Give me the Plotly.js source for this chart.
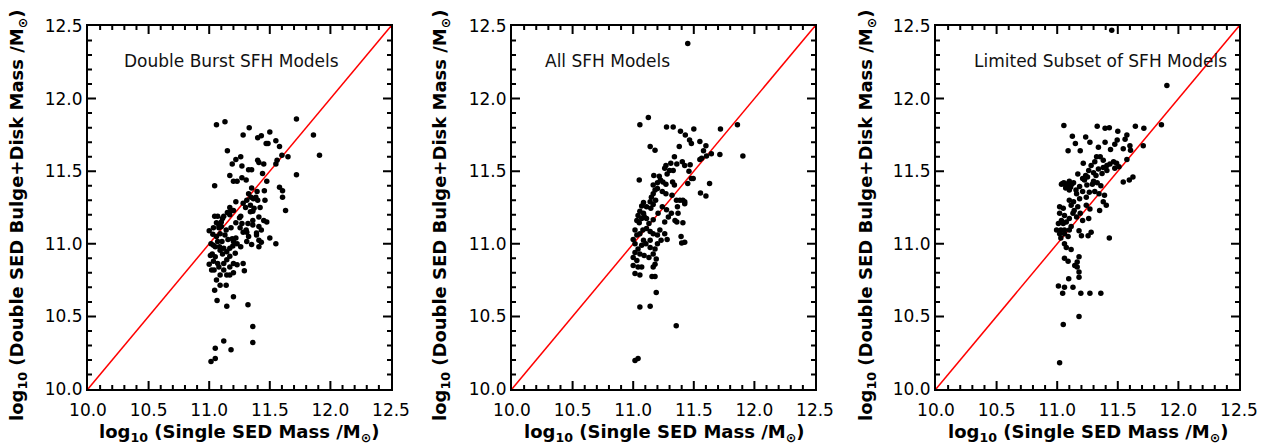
<!DOCTYPE html>
<html>
<head>
<meta charset="utf-8">
<script src="https://cdn.plot.ly/plotly-3.0.1.min.js"></script>
<style>html,body{margin:0;padding:0;background:#fff;}#chart{width:1270px;height:447px;}
.js-plotly-plot .plotly .crisp{shape-rendering:auto !important;}</style>
</head>
<body>
<div id="chart"></div>
<script>
// Panel 1: Double Burst SFH Models
const p1x = [11.06,11.13,11.33,11.72,11.86,11.91,11.28,11.40,11.43,11.50,11.47,11.485,11.55,11.58,11.15,11.26,11.22,11.19,11.40,11.41,11.45,11.27,11.325,11.35,11.55,11.56,11.60,11.65,11.17,11.27,11.305,11.20,11.23,11.44,11.475,11.72,11.045,11.35,11.395,11.455,11.58,11.605,11.605,11.325,11.345,11.365,11.385,11.40,11.46,11.63,11.31,11.28,11.30,11.34,11.36,11.34,11.37,11.42,11.22,11.20,11.17,11.18,11.15,11.17,11.12,11.11,11.045,11.07,11.10,11.08,11.06,11.035,11.08,11.10,11.14,11.18,11.22,11.26,11.27,11.305,11.31,11.28,11.255,11.25,11.41,11.45,11.475,11.41,11.43,11.39,11.39,11.41,11.43,11.41,11.50,11.55,11.36,11.32,11.36,11.00,
11.015,11.035,11.01,11.025,11.05,11.035,11.07,11.08,11.02,11.04,11.00,11.09,11.12,11.11,11.145,11.17,11.195,11.20,11.19,11.22,11.23,11.215,11.17,11.145,11.12,11.17,11.20,11.23,11.26,11.28,11.29,11.12,11.145,11.17,11.20,11.09,11.06,11.09,11.045,11.14,11.065,11.145,11.20,11.32,11.36,11.36,11.12,11.05,11.18,11.05,11.015,
11.03,11.06,11.09,11.13,11.155,11.105,11.07,11.05,11.085,11.31,11.325,11.35];
const p1y = [11.82,11.84,11.80,11.86,11.75,11.61,11.75,11.73,11.745,11.77,11.69,11.69,11.71,11.67,11.64,11.60,11.58,11.55,11.575,11.56,11.55,11.535,11.51,11.51,11.55,11.575,11.61,11.60,11.47,11.455,11.44,11.43,11.43,11.485,11.43,11.475,11.40,11.385,11.36,11.365,11.39,11.365,11.32,11.345,11.32,11.31,11.32,11.30,11.30,11.23,11.30,11.28,11.25,11.265,11.225,11.22,11.245,11.25,11.29,11.23,11.25,11.23,11.215,11.20,11.19,11.175,11.19,11.19,11.15,11.13,11.145,11.11,11.11,11.12,11.095,11.11,11.145,11.19,11.14,11.095,11.08,11.08,11.11,11.18,11.185,11.16,11.15,11.12,11.095,11.075,11.06,11.025,11.01,10.98,11.04,11.00,11.16,11.14,11.13,11.09,
11.00,10.99,10.92,10.93,10.91,10.88,10.865,10.84,10.82,10.82,10.86,10.955,10.97,10.93,10.945,10.97,10.985,11.015,11.035,11.04,11.00,10.935,10.915,10.89,10.865,10.84,10.865,10.855,10.98,10.865,10.815,10.82,10.785,10.785,10.80,10.785,10.75,10.715,10.68,10.715,10.61,10.57,10.635,10.58,10.43,10.32,10.33,10.28,10.27,10.21,10.19,
11.065,11.05,11.07,11.06,11.03,11.015,11.015,10.98,10.98,11.015,11.05,10.995];

// Panel 2: All SFH Models
const p2x = [11.45,11.055,11.125,11.275,11.33,11.50,11.72,11.86,11.905,11.715,11.645,11.14,11.18,11.39,11.43,11.465,11.48,11.55,11.60,11.58,11.605,11.38,11.34,11.565,11.55,11.405,11.425,11.47,11.36,11.31,11.27,11.26,11.30,11.28,11.33,11.46,11.48,11.495,11.45,11.555,11.60,11.63,11.05,
11.17,11.215,11.165,11.20,11.245,11.27,11.325,11.34,11.24,11.27,11.32,11.357,11.41,11.425,11.385,11.365,11.425,
11.15,11.185,11.165,11.145,11.085,11.07,11.055,11.04,11.09,11.11,11.13,11.165,11.205,11.24,11.275,11.29,11.26,11.315,11.345,11.37,11.36,11.41,11.395,11.425,11.40,
11.015,11.03,11.055,11.08,11.11,11.14,11.165,11.20,11.22,11.26,11.28,11.23,11.20,11.18,11.14,11.105,11.07,11.04,11.015,11.055,11.09,11.13,11.165,11.19,11.18,11.03,11.00,11.04,11.07,11.015,11.055,11.165,11.155,11.18,11.19,11.055,11.14,11.355,11.015,11.04,
11.00,11.015,11.085,11.14,11.00,11.05,11.07,11.03,11.11,11.14,11.165,11.18,11.20,11.225,11.085];
const p2y = [12.38,11.82,11.87,11.805,11.805,11.79,11.79,11.82,11.605,11.615,11.62,11.67,11.645,11.775,11.75,11.715,11.69,11.705,11.675,11.64,11.605,11.67,11.60,11.59,11.58,11.565,11.54,11.545,11.55,11.555,11.54,11.52,11.505,11.48,11.505,11.50,11.45,11.45,11.415,11.35,11.33,11.415,11.44,
11.47,11.465,11.405,11.38,11.425,11.41,11.425,11.405,11.36,11.345,11.335,11.30,11.30,11.29,11.30,11.255,11.275,
11.32,11.30,11.27,11.245,11.285,11.26,11.225,11.195,11.19,11.175,11.14,11.165,11.21,11.255,11.235,11.185,11.15,11.21,11.16,11.21,11.15,11.145,11.05,11.01,11.005,
11.095,11.06,11.07,11.095,11.105,11.085,11.07,11.06,11.095,11.07,11.03,11.025,11.00,10.965,10.975,11.00,10.99,10.965,10.94,10.93,10.92,10.905,10.93,10.895,10.86,10.885,10.85,10.84,10.84,10.795,10.785,10.84,10.775,10.775,10.665,10.565,10.57,10.435,10.196,10.21,
11.03,11.00,11.025,11.025,10.905,11.145,11.175,11.16,11.255,11.29,11.345,11.37,11.42,11.44,11.21];

// Panel 3: Limited Subset of SFH Models
const p3x = [11.45,11.905,11.86,11.715,11.71,11.645,11.055,11.33,11.395,11.43,11.50,11.575,11.495,11.475,11.44,11.56,11.545,11.60,11.605,
11.125,11.15,11.09,11.19,11.235,11.27,11.395,11.34,
11.325,11.355,11.38,11.31,11.28,11.215,11.26,11.30,11.34,11.38,11.41,11.435,11.465,11.49,11.51,11.475,11.41,11.37,
11.575,11.545,11.595,11.625,
11.17,11.21,11.245,11.185,11.21,11.16,11.185,11.24,11.265,11.29,11.33,11.36,11.31,11.345,11.39,11.38,11.405,11.35,
11.045,11.07,11.09,11.11,11.135,11.10,11.07,
11.10,11.135,11.17,11.14,11.115,11.19,11.16,11.13,11.10,11.21,11.24,11.27,11.26,11.28,11.18,11.20,11.255,
11.02,11.05,11.02,11.06,11.035,11.01,11.05,11.075,10.995,11.03,11.06,11.02,11.06,11.09,11.10,11.115,
11.03,11.06,11.075,11.115,11.06,11.09,11.095,11.06,11.01,11.045,11.18,11.165,11.145,11.165,11.18,11.18,11.13,11.195,11.27,11.36,11.18,11.05,11.02,11.43,
11.035,11.055,11.08,11.10,11.12,11.155,11.225,11.235,11.25,11.30,11.32];
const p3y = [12.47,12.09,11.82,11.795,11.675,11.81,11.815,11.81,11.795,11.80,11.775,11.75,11.715,11.685,11.65,11.72,11.655,11.675,11.645,
11.74,11.69,11.64,11.64,11.735,11.70,11.70,11.665,
11.60,11.60,11.575,11.565,11.54,11.555,11.505,11.49,11.515,11.525,11.54,11.55,11.565,11.555,11.53,11.52,11.505,11.485,
11.58,11.425,11.44,11.46,
11.48,11.45,11.405,11.395,11.36,11.345,11.31,11.32,11.355,11.41,11.42,11.40,11.36,11.345,11.335,11.29,11.265,11.23,
11.415,11.405,11.415,11.39,11.42,11.37,11.385,
11.30,11.29,11.255,11.23,11.265,11.21,11.185,11.21,11.175,11.16,11.265,11.24,11.175,11.08,11.09,11.055,11.055,
11.255,11.245,11.21,11.195,11.16,11.14,11.14,11.15,11.095,11.095,11.095,11.07,11.07,11.05,11.095,11.12,
11.04,11.00,10.975,10.96,10.90,10.88,10.76,10.70,10.71,10.66,10.91,10.875,10.85,10.84,10.805,10.77,10.70,10.66,10.66,10.66,10.50,10.445,10.18,11.04,
11.41,11.42,11.40,11.43,11.41,11.37,11.44,11.47,11.46,11.43,11.47];

const panelLabels = ["Double Burst SFH Models", "All SFH Models", "Limited Subset of SFH Models"];
const oneToOne = [10.0, 12.5];
const axisRange = [10.0, 12.5];
const xTitle = "log<sub>10</sub> (Single SED Mass /M<sub>⊙</sub>)";
const yTitle = "log<sub>10</sub> (Double SED Bulge+Disk Mass /M<sub>⊙</sub>)";

(function () {
const W = 1270, H = 447;
const panels = [
  {x: p1x, y: p1y, left: 88, right: 391, label: panelLabels[0], labelX: 231, yTitleX: 18},
  {x: p2x, y: p2y, left: 512, right: 815, label: panelLabels[1], labelX: 607, yTitleX: 441},
  {x: p3x, y: p3y, left: 936, right: 1239, label: panelLabels[2], labelX: 1100, yTitleX: 867}
];
const boxTop = 26, boxBottom = 389;
const FONT = "DejaVu Sans, Verdana, sans-serif";

const traces = [];
const layout = {
  width: W, height: H,
  margin: {l: 0, r: 0, t: 0, b: 0},
  showlegend: false,
  font: {family: FONT, color: "#000", size: 17},
  annotations: []
};

function axisBase() {
  return {
    range: axisRange.slice(), dtick: 0.5, tick0: 10, tickformat: ".1f",
    showgrid: false, zeroline: false,
    showline: true, linecolor: "#000", linewidth: 2, mirror: "ticks",
    ticks: "inside", ticklen: 8, tickwidth: 2, tickcolor: "#000",
    tickfont: {family: FONT, size: 17, color: "#000"},
    minor: {ticks: "inside", ticklen: 4, tickwidth: 1.5, tickcolor: "#000", dtick: 0.1}
  };
}

panels.forEach((p, i) => {
  const n = i === 0 ? "" : String(i + 1);
  const xa = "x" + n, ya = "y" + n;
  traces.push({
    x: oneToOne, y: oneToOne, xaxis: xa, yaxis: ya,
    mode: "lines", line: {color: "#ff0000", width: 1.5}
  });
  traces.push({
    x: p.x, y: p.y, xaxis: xa, yaxis: ya,
    mode: "markers", marker: {color: "#000", size: 5.5}
  });
  layout["xaxis" + n] = Object.assign(axisBase(), {
    domain: [p.left / W, p.right / W], anchor: ya, ticklabelstandoff: 5
  });
  layout["yaxis" + n] = Object.assign(axisBase(), {
    domain: [1 - boxBottom / H, 1 - boxTop / H], anchor: xa
  });
  layout.annotations.push({
    xref: "paper", yref: "paper", x: p.labelX / W, y: 1 - 61 / H,
    text: p.label, showarrow: false, xanchor: "center", yanchor: "middle",
    font: {family: FONT, size: 17, color: "#111"}
  });
  layout.annotations.push({
    xref: "paper", yref: "paper", x: (p.left + p.right) / 2 / W, y: 0,
    text: xTitle, showarrow: false, xanchor: "center", yanchor: "bottom",
    font: {family: FONT, size: 18, color: "#000", weight: "bold"}
  });
  layout.annotations.push({
    xref: "paper", yref: "paper", x: p.yTitleX / W, y: 1 - 215 / H,
    text: yTitle, showarrow: false, xanchor: "center", yanchor: "middle", textangle: -90,
    font: {family: FONT, size: 18, color: "#000", weight: "bold"}
  });
});

Plotly.newPlot("chart", traces, layout, {displayModeBar: false});
})();
</script>
</body>
</html>
